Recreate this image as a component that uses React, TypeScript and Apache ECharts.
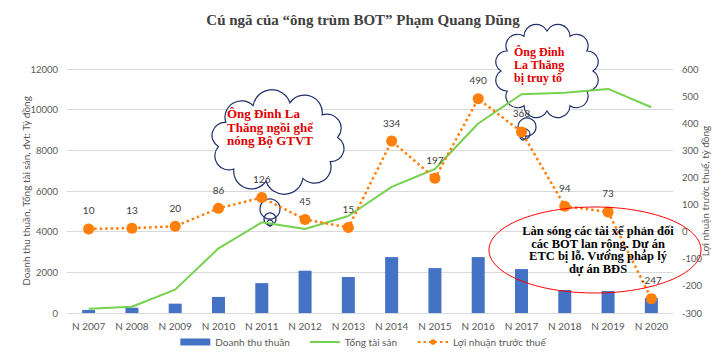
import React, { useEffect, useRef } from "react";
import * as echarts from "echarts";

const categories = ["N 2007", "N 2008", "N 2009", "N 2010", "N 2011", "N 2012", "N 2013", "N 2014", "N 2015", "N 2016", "N 2017", "N 2018", "N 2019", "N 2020"];
const revenue = [150, 260, 460, 790, 1470, 2080, 1770, 2750, 2210, 2750, 2160, 1130, 1080, 740];
const assets = [210, 310, 1150, 3180, 4460, 4130, 4770, 6200, 7080, 9320, 10760, 10830, 11020, 10120];
const profit = [10, 13, 20, 86, 126, 45, 15, 334, 197, 490, 368, 94, 73, -247];

const seriesNames = ["Doanh thu thuần", "Tổng tài sản", "Lợi nhuận trước thuế"];
const titleText = "Cú ngã của “ông trùm BOT” Phạm Quang Dũng";
const leftAxisName = "Doanh thu thuần, Tổng tài sản, đvt: Tỷ đồng";
const rightAxisName = "Lợi nhuận trước thuế, tỷ đồng";
const note1 = "Ông Đinh La\nThăng ngồi ghế\nnóng Bộ GTVT";
const note2 = "Ông Đinh\nLa Thăng\nbị truy tố";
const note3 = "Làn sóng các tài xế phản đối\ncác BOT lan rộng. Dự án\nETC bị lỗ. Vướng pháp lý\ndự án BĐS";

function cloudPath(cx: number, cy: number, a: number, b: number, n: number, phase: number) {
  const pts: number[][] = [];
  for (let i = 0; i < n; i++) {
    const t = phase + (2 * Math.PI * i) / n;
    pts.push([cx + a * Math.cos(t), cy + b * Math.sin(t)]);
  }
  let d = `M${pts[0][0].toFixed(2)} ${pts[0][1].toFixed(2)}`;
  for (let i = 0; i < n; i++) {
    const p0 = pts[i];
    const p1 = pts[(i + 1) % n];
    const chord = Math.hypot(p1[0] - p0[0], p1[1] - p0[1]);
    const r = (chord / 2) * 1.03;
    d += ` A${r.toFixed(2)} ${r.toFixed(2)} 0 0 1 ${p1[0].toFixed(2)} ${p1[1].toFixed(2)}`;
  }
  return d + " Z";
}

export default function App() {
  const ref = useRef<HTMLDivElement>(null);
  useEffect(() => {
    if (!ref.current) return;
    echarts.graphic.registerShape("cloudA", echarts.graphic.extendPath(cloudPath(278, 142, 60, 40, 10, -Math.PI / 2 + 0.2), {}));
    echarts.graphic.registerShape("cloudB", echarts.graphic.extendPath(cloudPath(547, 71, 46, 40, 12, (-5 * Math.PI) / 6), {}));
    const chart = echarts.init(ref.current, null, { renderer: "svg" });
    const axisLabel = { color: "#595959", fontSize: 10, fontFamily: "Lato" };
    const navy = "#1F2F6B";
    const cloudStyle = { fill: "#ffffff", stroke: navy, lineWidth: 1.2 };
    const ringStyle = { fill: "none", stroke: navy, lineWidth: 1.2 };
    chart.setOption({
      animation: false,
      backgroundColor: "#ffffff",
      title: {
        text: titleText,
        left: "center",
        top: 7,
        textStyle: { fontFamily: "Liberation Serif", fontSize: 15, fontWeight: "bold", color: "#404040" },
      },
      legend: {
        bottom: 6,
        left: "center",
        itemWidth: 30,
        itemHeight: 7,
        itemGap: 20,
        textStyle: { color: "#595959", fontSize: 10, fontFamily: "Lato" },
        data: [
          { name: seriesNames[0], icon: "rect" },
          { name: seriesNames[1], icon: "path://M0 0 H30 V2 H0 Z" },
          { name: seriesNames[2] },
        ],
      },
      grid: { left: 67, right: 53, top: 69, bottom: 45, containLabel: false },
      xAxis: {
        type: "category",
        data: categories,
        axisTick: { show: false },
        axisLine: { lineStyle: { color: "#d9d9d9" } },
        axisLabel: { ...axisLabel, margin: 8, interval: 0 },
      },
      yAxis: [
        {
          type: "value",
          min: 0,
          max: 12000,
          interval: 2000,
          name: leftAxisName,
          nameLocation: "middle",
          nameRotate: 90,
          nameGap: 36,
          nameMoveOverlap: false,
          nameTextStyle: { color: "#595959", fontSize: 10, fontFamily: "Lato" },
          axisLabel: { ...axisLabel, fontSize: 9.5, margin: 9, formatter: (v: number) => String(v) },
          splitLine: { lineStyle: { color: "#d9d9d9" } },
          axisLine: { show: false },
        },
        {
          type: "value",
          min: -300,
          max: 600,
          interval: 100,
          alignTicks: false,
          name: rightAxisName,
          nameLocation: "middle",
          nameRotate: 90,
          nameGap: 27,
          nameMoveOverlap: false,
          nameTextStyle: { color: "#595959", fontSize: 10, fontFamily: "Lato" },
          axisLabel: { ...axisLabel, fontSize: 9.5, margin: 9, formatter: (v: number) => String(v) },
          splitLine: { show: false },
          axisLine: { show: false },
        },
      ],
      series: [
        {
          name: seriesNames[0],
          type: "bar",
          data: revenue,
          barWidth: 13,
          itemStyle: { color: "#4472C4" },
          z: 2,
        },
        {
          name: seriesNames[1],
          type: "line",
          data: assets,
          symbol: "none",
          lineStyle: { color: "#76D14F", width: 2 },
          itemStyle: { color: "#76D14F" },
          z: 3,
        },
        {
          name: seriesNames[2],
          type: "line",
          yAxisIndex: 1,
          data: profit,
          symbol: "circle",
          symbolSize: 11,
          lineStyle: { color: "#FF7F0A", width: 2.5, type: [2.5, 3] },
          itemStyle: { color: "#FF7F0A" },
          label: { show: true, position: "top", distance: 8, color: "#404040", fontSize: 10, fontFamily: "Lato" },
          z: 4,
        },
      ],
      graphic: [
        { type: "cloudA", z: 1, shape: {}, style: cloudStyle },
        { type: "circle", z: 1, shape: { cx: 270, cy: 209, r: 10 }, style: ringStyle },
        { type: "circle", z: 1, shape: { cx: 270, cy: 219, r: 6 }, style: ringStyle },
        { type: "circle", z: 1, shape: { cx: 270, cy: 223, r: 3 }, style: ringStyle },
        { type: "cloudB", z: 1, shape: {}, style: cloudStyle },
        { type: "circle", z: 1, shape: { cx: 527, cy: 127, r: 9 }, style: ringStyle },
        { type: "circle", z: 1, shape: { cx: 525, cy: 134, r: 5 }, style: ringStyle },
        { type: "circle", z: 1, shape: { cx: 523, cy: 137, r: 3 }, style: ringStyle },
        {
          type: "text",
          z: 10,
          style: {
            text: note1, x: 227, y: 107, fill: "#E00000", fontSize: 13, fontWeight: "bold",
            fontFamily: "Liberation Serif", lineHeight: 13.5, align: "left", verticalAlign: "top",
          },
        },
        {
          type: "text",
          z: 10,
          style: {
            text: note2, x: 514, y: 45, fill: "#E00000", fontSize: 12, fontWeight: "bold",
            fontFamily: "Liberation Serif", lineHeight: 13, align: "left", verticalAlign: "top",
          },
        },
        {
          type: "ellipse",
          z: 10,
          shape: { cx: 595, cy: 250, rx: 106, ry: 43 },
          style: { fill: "none", stroke: "#FF0000", lineWidth: 1 },
        },
        {
          type: "text",
          z: 10,
          style: {
            text: note3, x: 598, y: 225, fill: "#000000", fontSize: 12.5, fontWeight: "bold",
            fontFamily: "Liberation Serif", lineHeight: 12.5, align: "center", verticalAlign: "top",
          },
        },
      ],
    });
    return () => chart.dispose();
  }, []);
  return <div ref={ref} style={{ width: 726, height: 358, position: "absolute", left: 0, top: 0 }} />;
}
